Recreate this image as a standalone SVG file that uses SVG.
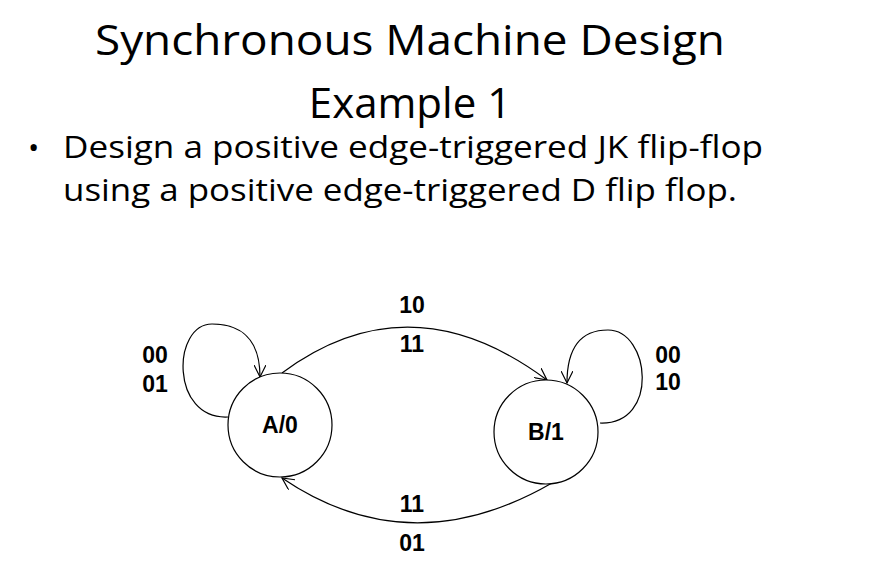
<svg xmlns="http://www.w3.org/2000/svg" width="892" height="588" viewBox="0 0 892 588">
<style>
.t{font-family:"Open Sans","Noto Sans",sans-serif;fill:#000}
.l{font-family:"Liberation Sans",Arial,sans-serif;font-weight:bold;font-size:23px;fill:#000;text-anchor:middle}
.e{fill:#fff;stroke:#000;stroke-width:1.2}
.c{fill:none;stroke:#000;stroke-width:1.2;marker-end:url(#a)}
</style>
<defs><marker id="a" markerWidth="14" markerHeight="12" refX="12" refY="6" orient="auto" markerUnits="userSpaceOnUse"><path d="M0,0 L12,6 L0,12" fill="none" stroke="#000" stroke-width="1.2"/></marker></defs>
<rect width="892" height="588" fill="#fff"/>
<text class="t" x="410" y="55" font-size="42" text-anchor="middle" textLength="630" lengthAdjust="spacingAndGlyphs">Synchronous Machine Design</text>
<text class="t" x="410" y="118" font-size="42" text-anchor="middle">Example 1</text>
<text class="t" x="28" y="158" font-size="30">•</text>
<text class="t" x="63" y="158" font-size="31" textLength="700" lengthAdjust="spacingAndGlyphs">Design a positive edge-triggered JK flip-flop</text>
<text class="t" x="63" y="201" font-size="31" textLength="674" lengthAdjust="spacingAndGlyphs">using a positive edge-triggered D flip flop.</text>
<g id="conn">
<path class="c" d="M282,373 Q410,278 547,380"/>
<path class="c" d="M552,483 Q410,565 282,478"/>
<path class="c" d="M228,417 C170,420 172,324 212,324 C250,324 260,350 260,377"/>
<path class="c" d="M600,423 C660,425 650,330 608,330 C575,330 567,355 567,383"/>
</g>
<g id="A"><circle class="e" cx="280" cy="425" r="52"/><text class="l" x="280" y="433">A/0</text></g>
<g id="B"><circle class="e" cx="546" cy="432" r="52"/><text class="l" x="546" y="440">B/1</text></g>
<g id="labels">
<text class="l" x="412" y="313">10</text>
<text class="l" x="412" y="352">11</text>
<text class="l" x="155" y="363">00</text>
<text class="l" x="155" y="392">01</text>
<text class="l" x="668" y="363">00</text>
<text class="l" x="668" y="390">10</text>
<text class="l" x="412" y="512">11</text>
<text class="l" x="412" y="551">01</text>
</g>
</svg>
